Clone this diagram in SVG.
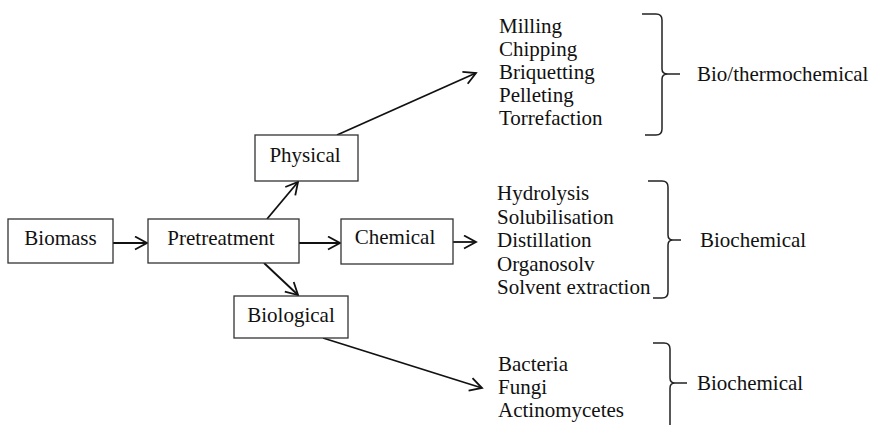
<svg xmlns="http://www.w3.org/2000/svg" width="874" height="425" viewBox="0 0 874 425">
<style>
  .box { fill: #fff; stroke: #333; stroke-width: 1.3; }
  .lbl { font-family: "Liberation Serif", "Times New Roman", serif; font-size: 21px; fill: #111; }
  .mid { text-anchor: middle; }
  .con { stroke: #111; stroke-width: 1.8; fill: none; marker-end: url(#arr); }
  .brace { stroke: #222; stroke-width: 1.5; fill: none; }
</style>
<defs>
  <marker id="arr" markerUnits="userSpaceOnUse" markerWidth="16" markerHeight="16" refX="13" refY="7.5" orient="auto">
    <path d="M1,1 L13,7.5 L1,14" fill="none" stroke="#111" stroke-width="1.8"/>
  </marker>
</defs>
<rect width="874" height="425" fill="#fff"/>

<g id="connectors">
  <line class="con" x1="113" y1="243" x2="147" y2="243"/>
  <line class="con" x1="299" y1="243" x2="340" y2="243"/>
  <line class="con" x1="267" y1="219" x2="298" y2="182"/>
  <line class="con" x1="264" y1="263" x2="298" y2="295"/>
  <line class="con" x1="337" y1="135" x2="476" y2="73"/>
  <line class="con" x1="453" y1="242" x2="476" y2="242"/>
  <line class="con" x1="323" y1="338" x2="482" y2="388"/>
</g>

<g id="biomass">
  <rect class="box" x="8" y="219" width="105" height="44"/>
  <text class="lbl mid" x="60.5" y="245">Biomass</text>
</g>
<g id="pretreatment">
  <rect class="box" x="148" y="219" width="151" height="44"/>
  <text class="lbl mid" x="221" y="245">Pretreatment</text>
</g>
<g id="physical">
  <rect class="box" x="255" y="135" width="103" height="46"/>
  <text class="lbl mid" x="305" y="162">Physical</text>
</g>
<g id="chemical">
  <rect class="box" x="341" y="219" width="112" height="45"/>
  <text class="lbl mid" x="395" y="244">Chemical</text>
</g>
<g id="biological">
  <rect class="box" x="234" y="296" width="114" height="42"/>
  <text class="lbl mid" x="291" y="322">Biological</text>
</g>

<g id="physical-methods">
  <text class="lbl" x="499" y="33">Milling</text>
  <text class="lbl" x="499" y="56">Chipping</text>
  <text class="lbl" x="499" y="79">Briquetting</text>
  <text class="lbl" x="499" y="102">Pelleting</text>
  <text class="lbl" x="499" y="125">Torrefaction</text>
</g>
<g id="chemical-methods">
  <text class="lbl" x="497" y="200">Hydrolysis</text>
  <text class="lbl" x="497" y="223.5">Solubilisation</text>
  <text class="lbl" x="497" y="247">Distillation</text>
  <text class="lbl" x="497" y="270.5">Organosolv</text>
  <text class="lbl" x="497" y="294">Solvent extraction</text>
</g>
<g id="biological-methods">
  <text class="lbl" x="498" y="371">Bacteria</text>
  <text class="lbl" x="498" y="394">Fungi</text>
  <text class="lbl" x="498" y="417">Actinomycetes</text>
</g>

<g id="brace-thermo">
  <path class="brace" d="M642,14 L656,14 Q662,14 662,20 L662,69 Q662,74 668,74 Q662,74 662,79 L662,129 Q662,135 656,135 L645,135 M668,74 L680,74"/>
  <text class="lbl" x="697" y="81">Bio/thermochemical</text>
</g>
<g id="brace-biochem1">
  <path class="brace" d="M648,181 L662,181 Q668,181 668,187 L668,235 Q668,240 673,240 Q668,240 668,245 L668,292 Q668,298 662,298 L653,298 M673,240 L681,240"/>
  <text class="lbl" x="700" y="247">Biochemical</text>
</g>
<g id="brace-biochem2">
  <path class="brace" d="M653,343 L664,343 Q670,343 670,349 L670,378 Q670,383 675,383 Q670,383 670,388 L670,426 M675,383 L687,383"/>
  <text class="lbl" x="697" y="390">Biochemical</text>
</g>
</svg>
